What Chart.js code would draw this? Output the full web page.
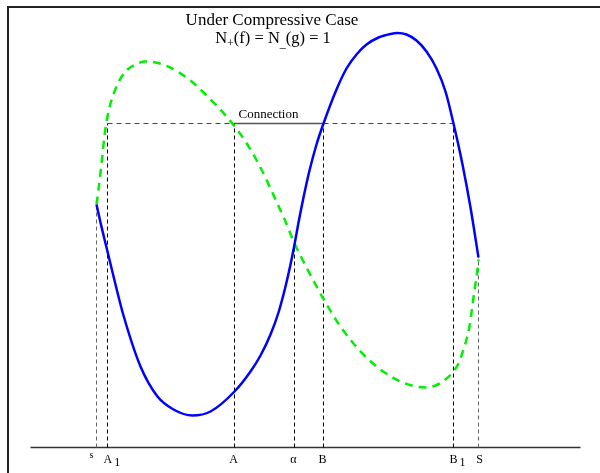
<!DOCTYPE html>
<html>
<head>
<meta charset="utf-8">
<script src="https://cdn.jsdelivr.net/npm/chart.js@4.4.1/dist/chart.umd.min.js"></script>
<style>
  html, body { margin: 0; padding: 0; background: #fff; }
  #wrap { width: 600px; height: 473px; position: relative; }
</style>
</head>
<body>
<div id="wrap"><canvas id="chart"></canvas></div>
<script>
// values: x along the axis, y = height above the axis line
const blueX = [96, 100, 107, 115, 123, 140, 157, 173, 192, 210, 234, 250, 260, 270, 278, 285, 290, 294, 298, 303, 309, 316, 323, 336, 346, 356, 366, 378, 390, 397, 406, 416, 426, 436, 445, 453, 462, 470, 478];
const blueY = [243, 225, 196, 163, 132, 81, 51, 38, 32, 36, 56, 76, 92, 113, 135, 161, 183, 203, 225, 250, 277, 303, 324, 358, 379, 393, 403, 410, 413.5, 414.5, 413, 407, 396, 379, 356, 324, 283, 240, 190];

const greenX = [96, 98, 100, 102, 104, 107, 110, 114, 120, 127, 135, 145, 155, 165, 177, 190, 203, 215, 226, 235, 245, 260, 275, 285, 294, 305, 315, 325, 340, 360, 380, 400, 415, 425, 435, 445, 452, 458, 462, 466, 469, 471, 473, 475, 477, 478];
const greenY = [243, 258, 275, 293, 312, 331, 344, 356, 369, 378, 383, 386, 385, 382, 376, 367, 355, 343, 331, 320, 306, 280, 248, 226, 204, 182, 163, 145, 121, 96, 78, 66, 61, 60, 62, 68, 75, 84, 95, 108, 121, 135, 150, 164, 178, 188];

// marked points on the axis and how high their dashed guide goes
const markLabels = ['s', 'A', 'A', 'α', 'B', 'B', 'S'];
const markSubs = ['', '1', '', '', '', '1', ''];
const markX = [96, 107, 234, 294, 323, 453, 478];
const markTop = [243, 324, 324, 203, 324, 324, 190];

// connection level
const connY = 324;
const connFrom = 107, connTo = 453;
const connSolid = [234, 323];

const axisFrom = 30, axisTo = 580;

const datasets = [];
datasets.push({
  data: blueX.map((x, i) => ({ x: x, y: blueY[i] })),
  borderColor: '#0000ff', borderWidth: 2.5,
  cubicInterpolationMode: 'monotone'
});
datasets.push({
  data: greenX.map((x, i) => ({ x: x, y: greenY[i] })),
  borderColor: '#00f000', borderWidth: 2.5, borderDash: [8, 6],
  cubicInterpolationMode: 'monotone'
});
datasets.push({
  data: [{ x: connSolid[0], y: connY }, { x: connSolid[1], y: connY }],
  borderColor: '#555', borderWidth: 1.5
});
datasets.push({
  data: [{ x: connFrom, y: connY }, { x: connTo, y: connY }],
  borderColor: '#444', borderWidth: 1, borderDash: [5, 4]
});
markX.forEach((x, i) => {
  datasets.push({
    data: [{ x: x, y: 0 }, { x: x, y: markTop[i] }],
    borderColor: (i === 0 || i === 6) ? '#666' : '#000',
    borderWidth: 1, borderDash: [4, 3]
  });
});
datasets.push({
  data: [{ x: axisFrom, y: 0 }, { x: axisTo, y: 0 }],
  borderColor: '#333', borderWidth: 1.5
});

const serif = '"Liberation Serif", "DejaVu Serif", serif';

const textPlugin = {
  id: 'texts',
  afterDraw(chart) {
    const ctx = chart.ctx;
    const xs = chart.scales.x, ys = chart.scales.y;
    ctx.save();
    // frame
    ctx.strokeStyle = '#222';
    ctx.lineWidth = 2;
    ctx.beginPath();
    ctx.moveTo(8, 480);
    ctx.lineTo(8, 7);
    ctx.lineTo(610, 7);
    ctx.stroke();

    ctx.fillStyle = '#000';
    ctx.textBaseline = 'alphabetic';
    // title
    ctx.font = '17px ' + serif;
    ctx.textAlign = 'center';
    ctx.fillText('Under Compressive Case', 272, 25);

    // second line with subscripts
    const parts = [
      { t: 'N', sub: false }, { t: '+', sub: true },
      { t: '(f) = N', sub: false }, { t: '_', sub: true },
      { t: '(g) = 1', sub: false }
    ];
    let total = 0;
    parts.forEach(p => {
      ctx.font = (p.sub ? '12px ' : '16.5px ') + serif;
      p.w = ctx.measureText(p.t).width;
      total += p.w;
    });
    let cx = 273 - total / 2;
    ctx.textAlign = 'left';
    parts.forEach(p => {
      ctx.font = (p.sub ? '12px ' : '16.5px ') + serif;
      ctx.fillText(p.t, cx, p.sub ? 47 : 43);
      cx += p.w;
    });

    // connection label
    ctx.font = '13px ' + serif;
    ctx.fillText('Connection', xs.getPixelForValue(238), ys.getPixelForValue(connY + 6));

    // axis labels
    const base = ys.getPixelForValue(-15.5);
    markLabels.forEach((lab, i) => {
      const px = xs.getPixelForValue(markX[i]);
      if (lab === 's') {
        ctx.font = '10px ' + serif;
        ctx.textAlign = 'center';
        ctx.fillText(lab, px - 5, base - 5);
        return;
      }
      ctx.font = '12px ' + serif;
      if (markSubs[i]) {
        ctx.textAlign = 'left';
        const w = ctx.measureText(lab).width;
        const left = px - 4;
        ctx.fillText(lab, left, base);
        ctx.fillText(markSubs[i], left + w + 2, base + 3);
      } else {
        ctx.textAlign = 'center';
        ctx.fillText(lab, px + (lab === 'S' ? 1 : -1), base);
      }
    });
    ctx.restore();
  }
};

new Chart(document.getElementById('chart'), {
  type: 'scatter',
  data: { datasets: datasets },
  options: {
    responsive: true,
    maintainAspectRatio: false,
    animation: false,
    layout: { padding: 0 },
    showLine: true,
    elements: { point: { radius: 0, hoverRadius: 0 }, line: { fill: false } },
    plugins: { legend: { display: false }, tooltip: { enabled: false }, title: { display: false } },
    scales: {
      x: { type: 'linear', min: -0.5, max: 599.5, display: false },
      y: { type: 'linear', min: -25.5, max: 447.5, display: false }
    }
  },
  plugins: [textPlugin]
});
</script>
</body>
</html>
